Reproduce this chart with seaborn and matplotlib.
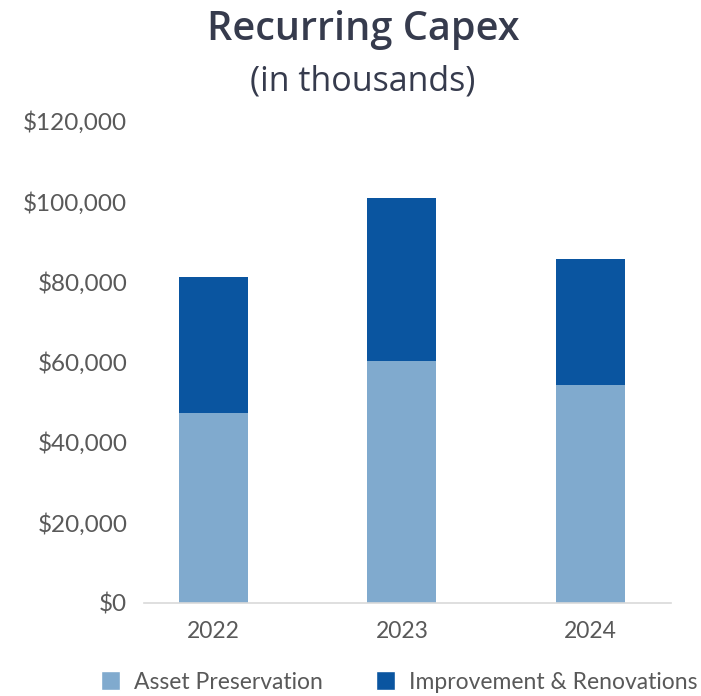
import numpy as np
import pandas as pd
import seaborn as sns
import matplotlib.pyplot as plt
from matplotlib.patches import Patch
from matplotlib.ticker import FuncFormatter

years = ["2022", "2023", "2024"]
asset_preservation = [47200, 60100, 54200]
improvement_renovations = [34000, 40800, 31500]
series_names = ["Asset Preservation", "Improvement & Renovations"]
y_ticks = [0, 20000, 40000, 60000, 80000, 100000, 120000]

light_blue = "#80AACE"
dark_blue = "#0A55A0"
tick_gray = "#595959"

sns.set_style("white")
plt.rcParams["font.family"] = ["Lato", "DejaVu Sans"]

totals = np.array(asset_preservation) + np.array(improvement_renovations)
df = pd.DataFrame({"year": years, "asset": asset_preservation, "total": totals})

fig = plt.figure(figsize=(7.01, 6.96), dpi=100)
ax = fig.add_axes([144 / 701, (696 - 602.5) / 696, (671 - 144) / 701, (602.5 - 121) / 696])

# stacked look: total bar first, lower series drawn over it
sns.barplot(data=df, x="year", y="total", color=dark_blue, width=0.366, saturation=1,
            linewidth=0, edgecolor="none", ax=ax)
sns.barplot(data=df, x="year", y="asset", color=light_blue, width=0.366, saturation=1,
            linewidth=0, edgecolor="none", ax=ax)

ax.set_xlim(-0.37, 2.43)
ax.set_ylim(0, 120000)
ax.set_yticks(y_ticks)
ax.yaxis.set_major_formatter(FuncFormatter(lambda v, p: f"${v:,.0f}"))
ax.set_xlabel("")
ax.set_ylabel("")
sns.despine(ax=ax, left=True)
ax.spines["bottom"].set_color("#D9D9D9")
ax.spines["bottom"].set_linewidth(1.2)
ax.tick_params(axis="y", length=0, pad=12, labelsize=17.5, labelcolor=tick_gray)
ax.tick_params(axis="x", length=0, pad=13, labelsize=16.5, labelcolor=tick_gray)

fig.text(363 / 701, 1 - 30 / 696, "Recurring Capex", ha="center", va="center",
         fontsize=28.5, fontweight=600, color="#363B4D", family=["Open Sans", "DejaVu Sans"])
fig.text(363 / 701, 1 - 82 / 696, "(in thousands)", ha="center", va="center",
         fontsize=24.5, color="#363B4D", family=["Open Sans", "DejaVu Sans"])

handles = [Patch(facecolor=light_blue), Patch(facecolor=dark_blue)]
fig.legend(handles, series_names, loc="center", bbox_to_anchor=(399 / 701, 1 - 682 / 696),
           ncol=2, frameon=False, fontsize=16.5, labelcolor=tick_gray,
           handlelength=0.85, handleheight=0.85, handletextpad=0.6, columnspacing=2.3)

fig.savefig("out.png", dpi=100)
